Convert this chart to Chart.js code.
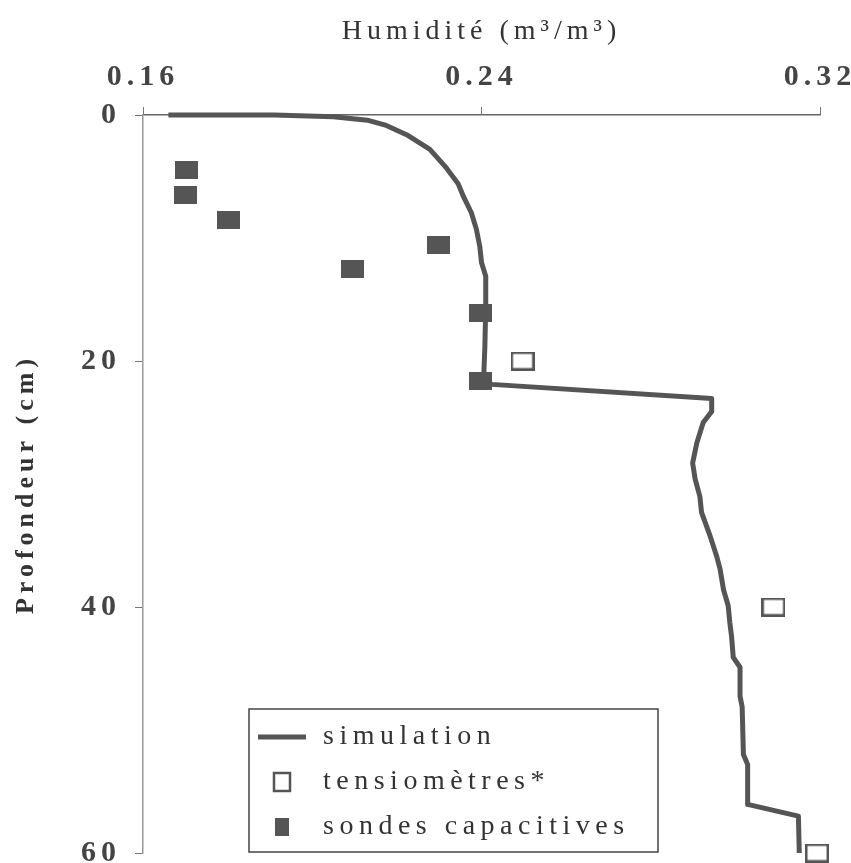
<!DOCTYPE html>
<html>
<head>
<meta charset="utf-8">
<script src="https://cdn.jsdelivr.net/npm/chart.js@4"></script>
<style>
    body { margin: 0; background: #fff; }
    #wrap { width: 851px; height: 863px; }
</style>
</head>
<body>
<div id="wrap"><canvas id="profil" width="851" height="863"></canvas></div>
<script>
// profil simulé (humidité m3/m3, profondeur cm)
const simHum = [0.166, 0.191, 0.205, 0.213, 0.2175, 0.2223, 0.2278, 0.2317, 0.2345, 0.2357, 0.2376, 0.2388, 0.2396,
    0.2400, 0.2410, 0.2410, 0.2408, 0.2405, 0.2424, 0.2944, 0.2944, 0.2924, 0.2909, 0.2899, 0.2905, 0.2916, 0.2920,
    0.2940, 0.2956, 0.2964, 0.2972, 0.2983, 0.2987, 0.2991, 0.2995, 0.3011, 0.3011, 0.3016, 0.3019, 0.3029, 0.3029,
    0.3149, 0.3151];
const simDepth = [0, 0, 0.15, 0.42, 0.85, 1.6, 2.8, 4.3, 5.6, 6.6, 7.95, 9.3, 10.7,
    12.0, 13.1, 15.5, 18.8, 21.5, 21.9, 23.05, 24.1, 25.0, 26.65, 28.3, 29.6, 31.0, 32.3,
    34.2, 35.9, 36.95, 38.6, 39.9, 41.3, 42.4, 44.1, 44.9, 47.25, 48.1, 52.0, 52.8, 56.05,
    57.0, 60];

// mesures
const tensioHum = [0.2497, 0.309, 0.3193];
const tensioDepth = [20, 40, 60];
const sondesHum = [0.1702, 0.1701, 0.1801, 0.2096, 0.2298, 0.2398, 0.2398];
const sondesDepth = [4.5, 6.5, 8.55, 12.55, 10.6, 16.1, 21.6];

const humTicks = [0.16, 0.24, 0.32];
const depthTicks = [0, 20, 40, 60];

const legendLabels = ['simulation', 'tensiomètres*', 'sondes capacitives'];

const ink = '#555';
const serif = 'Liberation Serif';

function toPoints(xs, ys) {
    return xs.map((x, i) => ({ x: x, y: ys[i] }));
}

function boxMark(w, h, filled) {
    const c = document.createElement('canvas');
    c.width = w;
    c.height = h;
    const g = c.getContext('2d');
    if (filled) {
        g.fillStyle = ink;
        g.fillRect(0, 0, w, h);
    } else {
        g.fillStyle = '#fff';
        g.fillRect(0, 0, w, h);
        g.strokeStyle = ink;
        g.lineWidth = 2.5;
        g.strokeRect(1.25, 1.25, w - 2.5, h - 2.5);
    }
    return c;
}

const openMark = boxMark(24, 19, false);
const fullMark = boxMark(23, 18, true);

// pas de marge automatique autour des étiquettes extrêmes
function noPadding(s) {
    s.paddingLeft = 0;
    s.paddingRight = 0;
    s.paddingTop = 0;
    s.paddingBottom = 0;
}

// espacement des lettres pour les textes des axes
const spacing = {
    id: 'spacing',
    beforeDraw(chart) { chart.ctx.letterSpacing = '5px'; },
    beforeDatasetsDraw(chart) { chart.ctx.letterSpacing = '0px'; }
};

// légende encadrée dans le bas du graphique
const boxLegend = {
    id: 'boxLegend',
    afterDraw(chart) {
        const ctx = chart.ctx;
        const x0 = 249, y0 = 709, w = 409, h = 143;
        ctx.save();
        ctx.strokeStyle = '#444';
        ctx.lineWidth = 1.5;
        ctx.strokeRect(x0, y0, w, h);

        const rows = [737, 782, 827];
        ctx.strokeStyle = ink;
        ctx.lineWidth = 5;
        ctx.beginPath();
        ctx.moveTo(258, rows[0]);
        ctx.lineTo(306, rows[0]);
        ctx.stroke();

        ctx.fillStyle = '#fff';
        ctx.fillRect(274, rows[1] - 9, 16, 18);
        ctx.lineWidth = 2.5;
        ctx.strokeRect(274, rows[1] - 9, 16, 18);

        ctx.fillStyle = ink;
        ctx.fillRect(275, rows[2] - 9, 14, 18);

        ctx.fillStyle = '#333';
        ctx.font = '28px "' + serif + '"';
        ctx.letterSpacing = '5.5px';
        ctx.textAlign = 'left';
        ctx.textBaseline = 'middle';
        legendLabels.forEach((t, i) => ctx.fillText(t, 323, rows[i]));
        ctx.restore();
    }
};

new Chart(document.getElementById('profil'), {
    type: 'scatter',
    data: {
        datasets: [{
            label: legendLabels[0],
            data: toPoints(simHum, simDepth),
            showLine: true,
            borderColor: ink,
            borderWidth: 5,
            borderJoinStyle: 'round',
            tension: 0,
            pointRadius: 0,
            clip: false
        }, {
            label: legendLabels[1],
            data: toPoints(tensioHum, tensioDepth),
            pointStyle: openMark,
            clip: false
        }, {
            label: legendLabels[2],
            data: toPoints(sondesHum, sondesDepth),
            pointStyle: fullMark,
            clip: false
        }]
    },
    options: {
        responsive: false,
        animation: false,
        layout: { padding: { left: 0, top: 0, right: 31, bottom: 10 } },
        plugins: {
            legend: { display: false },
            tooltip: { enabled: false }
        },
        scales: {
            x: {
                position: 'top',
                min: 0.16,
                max: 0.32,
                afterBuildTicks: s => { s.ticks = humTicks.map(v => ({ value: v })); },
                afterFit: s => { s.height = 115; noPadding(s); },
                grid: { drawOnChartArea: false, tickLength: 8, color: '#777' },
                border: { color: '#666', width: 1.5 },
                ticks: {
                    color: '#444',
                    padding: 12,
                    maxRotation: 0,
                    font: { family: serif, size: 30, weight: 'bold' },
                    callback: v => v.toFixed(2)
                },
                title: {
                    display: true,
                    text: 'Humidité (m³/m³)',
                    color: '#333',
                    padding: { top: 15, bottom: 0 },
                    font: { family: serif, size: 28 }
                }
            },
            y: {
                reverse: true,
                min: 0,
                max: 60,
                afterBuildTicks: s => { s.ticks = depthTicks.map(v => ({ value: v })); },
                afterFit: s => { s.width = 143; noPadding(s); },
                grid: { drawOnChartArea: false, tickLength: 8, color: '#777' },
                border: { color: '#999', width: 1.5 },
                ticks: {
                    color: '#444',
                    padding: 14,
                    font: { family: serif, size: 30, weight: 'bold' }
                },
                title: {
                    display: true,
                    text: 'Profondeur (cm)',
                    color: '#333',
                    padding: { top: 11, bottom: 0 },
                    font: { family: serif, size: 26, weight: 'bold' }
                }
            }
        }
    },
    plugins: [spacing, boxLegend]
});
</script>
</body>
</html>
